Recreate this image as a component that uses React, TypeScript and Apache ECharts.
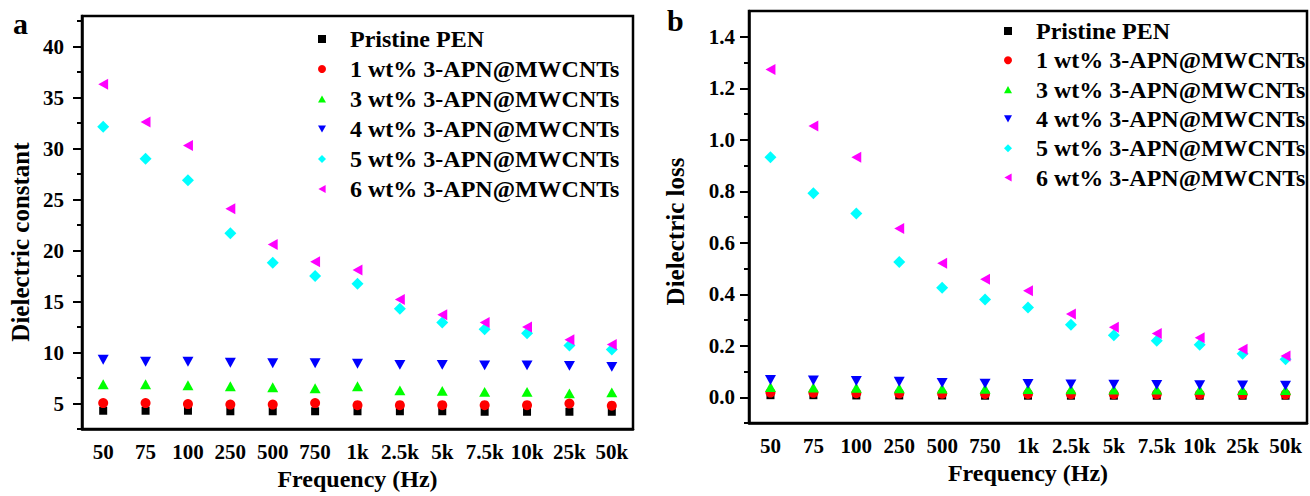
import React, { useEffect, useRef } from "react";
import * as echarts from "echarts";

const frequencies = ["50", "75", "100", "250", "500", "750", "1k", "2.5k", "5k", "7.5k", "10k", "25k", "50k"];
const seriesNames = [
  "Pristine PEN",
  "1 wt% 3-APN@MWCNTs",
  "3 wt% 3-APN@MWCNTs",
  "4 wt% 3-APN@MWCNTs",
  "5 wt% 3-APN@MWCNTs",
  "6 wt% 3-APN@MWCNTs",
];

// Panel a: dielectric constant
const constPristine = [4.3, 4.3, 4.3, 4.25, 4.25, 4.25, 4.25, 4.25, 4.25, 4.2, 4.2, 4.2, 4.2];
const const1 = [5.05, 5.05, 4.95, 4.9, 4.9, 5.05, 4.85, 4.85, 4.85, 4.85, 4.85, 5.0, 4.8];
const const3 = [6.9, 6.9, 6.8, 6.7, 6.6, 6.5, 6.7, 6.3, 6.25, 6.15, 6.15, 6.0, 6.1];
const const4 = [9.3, 9.1, 9.1, 9.0, 8.95, 8.95, 8.9, 8.8, 8.8, 8.75, 8.75, 8.7, 8.6];
const const5 = [32.15, 29.0, 26.9, 21.7, 18.8, 17.5, 16.75, 14.3, 12.95, 12.3, 11.9, 10.7, 10.3];
const const6 = [36.3, 32.6, 30.3, 24.1, 20.6, 18.9, 18.1, 15.2, 13.7, 12.95, 12.5, 11.25, 10.8];

// Panel b: dielectric loss
const lossPristine = [0.008, 0.008, 0.007, 0.007, 0.007, 0.006, 0.006, 0.006, 0.006, 0.006, 0.006, 0.006, 0.006];
const loss1 = [0.018, 0.017, 0.016, 0.015, 0.014, 0.013, 0.013, 0.012, 0.012, 0.012, 0.011, 0.011, 0.011];
const loss3 = [0.04, 0.038, 0.037, 0.035, 0.034, 0.033, 0.032, 0.031, 0.03, 0.03, 0.029, 0.028, 0.028];
const loss4 = [0.067, 0.065, 0.063, 0.06, 0.056, 0.053, 0.052, 0.05, 0.049, 0.048, 0.047, 0.046, 0.045];
const loss5 = [0.932, 0.792, 0.714, 0.525, 0.425, 0.38, 0.349, 0.282, 0.241, 0.219, 0.204, 0.169, 0.148];
const loss6 = [1.273, 1.053, 0.932, 0.655, 0.52, 0.458, 0.414, 0.323, 0.272, 0.248, 0.231, 0.186, 0.16];

const constMajorTicks = [5, 10, 15, 20, 25, 30, 35, 40];
const constMinorTicks = [2.5, 7.5, 12.5, 17.5, 22.5, 27.5, 32.5, 37.5, 42.5];
const lossMajorTicks = [0, 0.2, 0.4, 0.6, 0.8, 1.0, 1.2, 1.4];
const lossMinorTicks = [-0.1, 0.1, 0.3, 0.5, 0.7, 0.9, 1.1, 1.3];

const constData = [constPristine, const1, const3, const4, const5, const6];
const lossData = [lossPristine, loss1, loss3, loss4, loss5, loss6];

const FONT = '"Liberation Serif", "Times New Roman", serif';

const TRI_UP = "path://M5,0L10,9L0,9Z";
const TRI_DOWN = "path://M0,0L10,0L5,9Z";
const TRI_LEFT = "path://M9,0L9,10L0,5Z";

const markerStyles = [
  { symbol: "rect", size: 8, color: "#000000" },
  { symbol: "circle", size: 10, color: "#ff0000" },
  { symbol: TRI_UP, size: 11, color: "#00ff00" },
  { symbol: TRI_DOWN, size: 11, color: "#0000ff" },
  { symbol: "diamond", size: 12, color: "#00ffff" },
  { symbol: TRI_LEFT, size: 11, color: "#ff00ff" },
];

const labelStyle = {
  color: "#000",
  fontFamily: FONT,
  fontWeight: "bold" as const,
  fontSize: 21,
};

const nameStyle = {
  color: "#000",
  fontFamily: FONT,
  fontWeight: "bold" as const,
  fontSize: 25,
};

function xAxes(gridIndex: number) {
  return [
    {
      gridIndex,
      type: "category",
      position: "bottom",
      data: frequencies,
      boundaryGap: true,
      axisLine: { onZero: false, lineStyle: { color: "#000", width: 2.5 } },
      axisTick: { alignWithLabel: true, interval: 0, length: 6, lineStyle: { color: "#000", width: 2 } },
      axisLabel: { ...labelStyle, interval: 0, margin: 12 },
      splitLine: { show: false },
      name: "Frequency (Hz)",
      nameLocation: "middle",
      nameGap: 36,
      nameTextStyle: { ...nameStyle, fontSize: 24 },
    },
    {
      gridIndex,
      type: "category",
      position: "bottom",
      data: frequencies,
      boundaryGap: true,
      axisLine: { show: false, onZero: false },
      axisTick: { interval: 0, length: 5, lineStyle: { color: "#000", width: 2 } },
      axisLabel: { show: false },
      splitLine: { show: false },
    },
  ];
}

function yAxes(
  gridIndex: number,
  min: number,
  max: number,
  major: number[],
  minor: number[],
  name: string,
  nameGap: number,
  shift: number,
  margin: number,
  digits: number
) {
  return [
    {
      gridIndex,
      type: "value",
      position: "left",
      min,
      max,
      axisLine: { show: true, onZero: false, lineStyle: { color: "#000", width: 2.5 } },
      axisTick: { show: true, customValues: major, length: 9, lineStyle: { color: "#000", width: 2 } },
      axisLabel: {
        ...labelStyle,
        customValues: major,
        margin,
        formatter: (v: number) => (digits > 0 ? v.toFixed(digits) : String(v)),
      },
      splitLine: { show: false },
      name,
      nameLocation: "middle",
      nameGap,
      nameTextStyle: { ...nameStyle, padding: [0, shift, 0, 0] },
    },
    {
      gridIndex,
      type: "value",
      position: "left",
      min,
      max,
      axisLine: { show: false, onZero: false },
      axisTick: { show: true, customValues: minor, length: 5, lineStyle: { color: "#000", width: 2 } },
      axisLabel: { show: false },
      splitLine: { show: false },
    },
  ];
}

function makeSeries(data: number[][], xAxisIndex: number, yAxisIndex: number) {
  return data.map((values, i) => ({
    type: "scatter",
    name: seriesNames[i],
    xAxisIndex,
    yAxisIndex,
    data: values,
    symbol: markerStyles[i].symbol,
    symbolSize: markerStyles[i].size,
    symbolKeepAspect: true,
    itemStyle: { color: markerStyles[i].color, opacity: 1 },
    emphasis: { disabled: true },
    z: 3 + i,
  }));
}

function legend(left: number, top: number, gap: number, textPad: number) {
  return {
    orient: "vertical",
    left,
    top,
    padding: 0,
    itemWidth: 8,
    itemHeight: 8,
    itemGap: gap,
    selectedMode: false,
    data: seriesNames.map((name, i) => ({ name, icon: markerStyles[i].symbol })),
    textStyle: {
      color: "#000",
      fontFamily: FONT,
      fontWeight: "bold",
      fontSize: 24,
      padding: [0, 0, 0, textPad],
    },
  };
}

export default function App() {
  const ref = useRef<HTMLDivElement>(null);
  useEffect(() => {
    if (!ref.current) return;
    const chart = echarts.init(ref.current, null, { renderer: "svg" });
    chart.setOption({
      animation: false,
      backgroundColor: "#ffffff",
      grid: [
        { left: 82, top: 16, width: 551, height: 414, show: true, borderColor: "#000", borderWidth: 2.5 },
        { left: 749, top: 11, width: 558, height: 412, show: true, borderColor: "#000", borderWidth: 2.5 },
      ],
      xAxis: [...xAxes(0), ...xAxes(1)],
      yAxis: [
        ...yAxes(0, 2.5, 43, constMajorTicks, constMinorTicks, "Dielectric constant", 49, 39, 18, 0),
        ...yAxes(1, -0.1, 1.5, lossMajorTicks, lossMinorTicks, "Dielectric loss", 61, 29, 14, 1),
      ],
      legend: [legend(318, 27, 6, 19), legend(1004, 19, 5.3, 19)],
      series: [...makeSeries(constData, 0, 0), ...makeSeries(lossData, 2, 2)],
      graphic: [
        {
          type: "text",
          left: 13,
          top: 8,
          style: { text: "a", font: `bold 30px ${FONT}`, fill: "#000" },
        },
        {
          type: "text",
          left: 667,
          top: 5,
          style: { text: "b", font: `bold 30px ${FONT}`, fill: "#000" },
        },
      ],
    });
    return () => chart.dispose();
  }, []);
  return (
    <div
      ref={ref}
      style={{ position: "absolute", left: 0, top: 0, width: 1310, height: 496, background: "#fff" }}
    />
  );
}
